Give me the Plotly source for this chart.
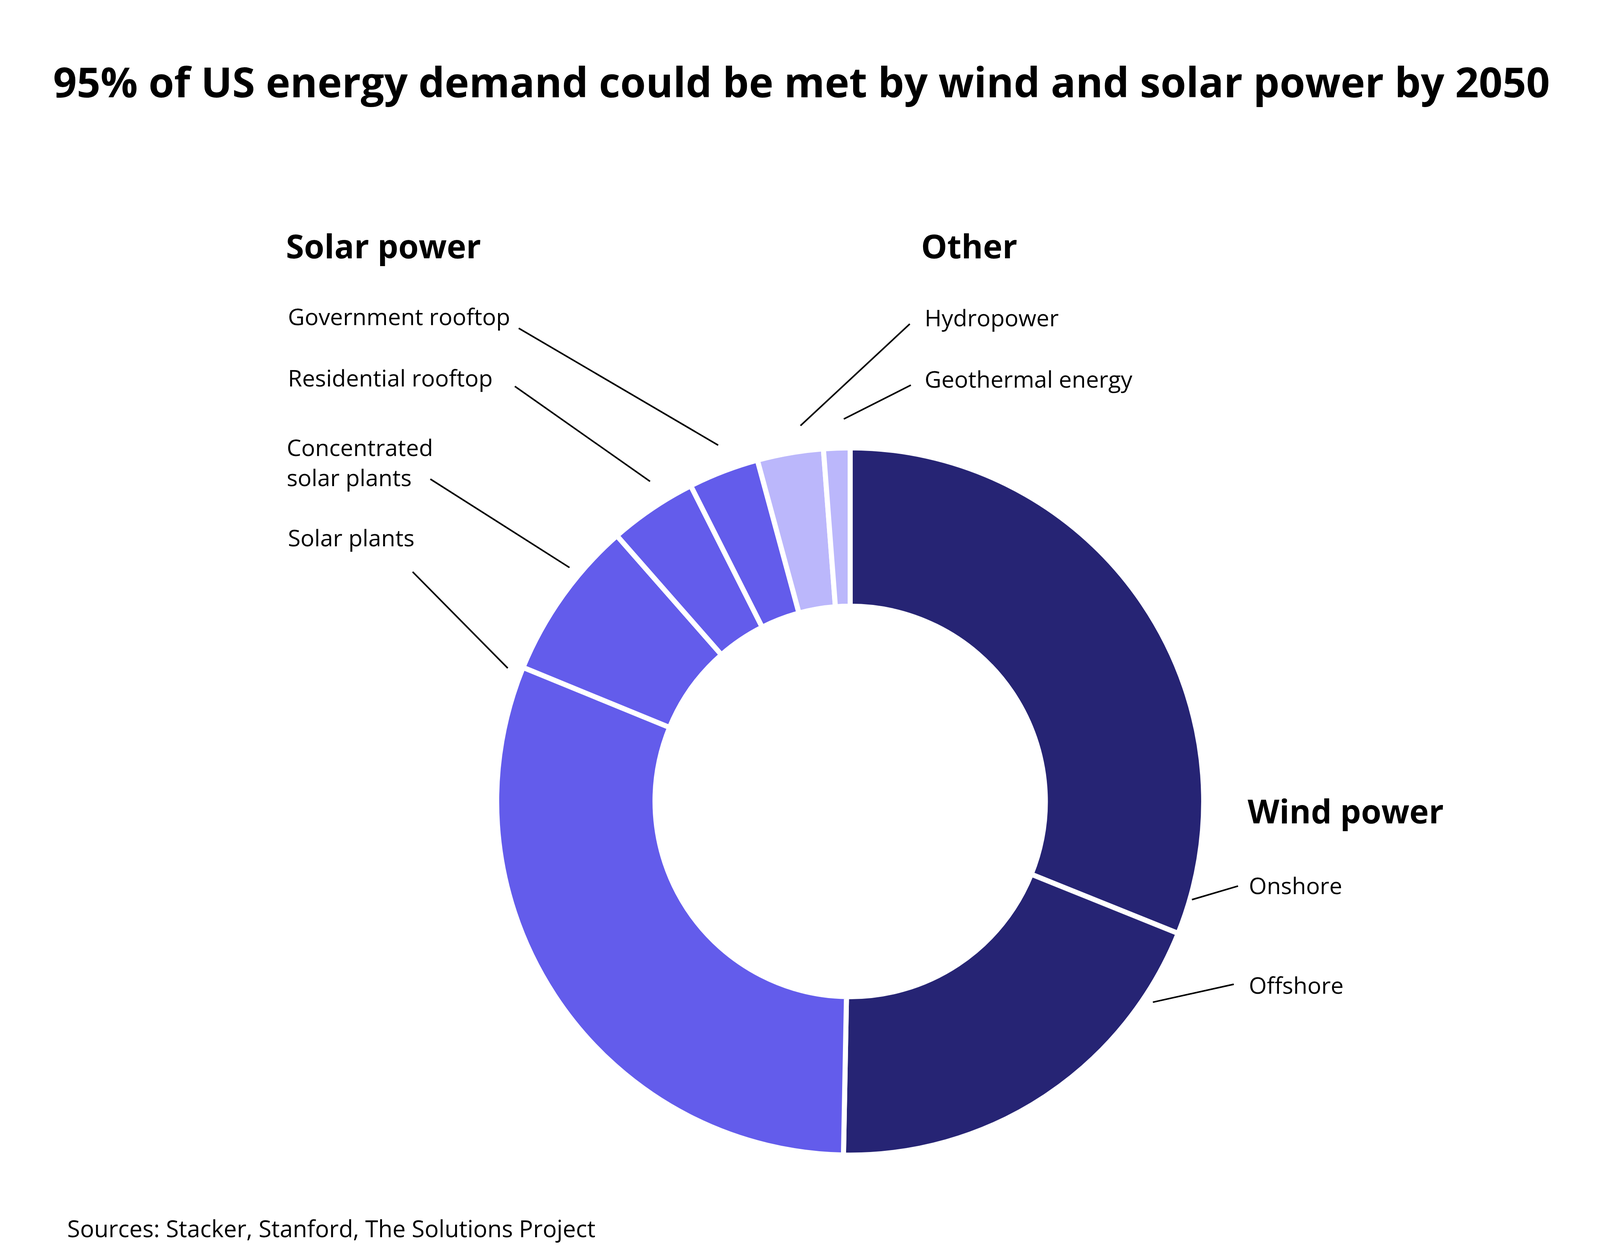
import plotly.graph_objects as go

# Share of projected 2050 US energy supply (%)
sources = ["Onshore", "Offshore", "Solar plants", "Concentrated solar plants",
           "Residential rooftop", "Government rooftop", "Hydropower", "Geothermal energy"]
shares = [30.9, 19.1, 30.7, 7.3, 4.0, 3.2, 3.0, 1.2]
groups = ["Wind power", "Wind power", "Solar power", "Solar power",
          "Solar power", "Solar power", "Other", "Other"]

group_colors = {"Wind power": "#262474", "Solar power": "#635CEB", "Other": "#BBB7FB"}

# the browser viewport is 4096 wide, so the page is laid out to fit it
W, H = 4088, 3201
REF_W, REF_H = 4500, 3209
FONT = "Open Sans"


def px(x):
    return x / REF_W


def py(y):
    return 1 - y / REF_H


# donut centre (paper) and radius (px)
cx, cy, r = px(2387), py(2048), 905

fig = go.Figure()

fig.add_trace(go.Pie(
    labels=sources,
    values=shares,
    hole=0.552,
    sort=False,
    direction="clockwise",
    rotation=0,
    textinfo="none",
    marker=dict(colors=[group_colors[g] for g in groups],
                line=dict(color="white", width=13)),
    domain=dict(x=[cx - r / W, cx + r / W], y=[cy - r / H, cy + r / H]),
    showlegend=False,
    hovertemplate="%{label}: %{value}%<extra></extra>",
))

# label text: (text, x, y, bold)
labels = [
    ("Solar power", 795, 622, True),
    ("Other", 2585, 622, True),
    ("Wind power", 3505, 2072, True),
    ("Government rooftop", 800, 803, False),
    ("Residential rooftop", 800, 960, False),
    ("Concentrated<br>solar plants", 797, 1177, False),
    ("Solar plants", 800, 1370, False),
    ("Hydropower", 2595, 806, False),
    ("Geothermal energy", 2595, 963, False),
    ("Onshore", 3508, 2263, False),
    ("Offshore", 3508, 2518, False),
]

annotations = []
for text, x, y, bold in labels:
    annotations.append(dict(
        text=f"<b>{text}</b>" if bold else text,
        x=px(x), y=py(y), xref="paper", yref="paper",
        xanchor="left", yanchor="middle", showarrow=False, align="left",
        font=dict(family=FONT, size=84 if bold else 59, color="#000000"),
    ))

annotations.append(dict(
    text="<b>95% of US energy demand could be met by wind and solar power by 2050</b>",
    x=0.5, y=py(200), xref="paper", yref="paper",
    xanchor="center", yanchor="middle", showarrow=False,
    font=dict(family=FONT, size=106, color="#000000"),
))
annotations.append(dict(
    text="Sources: Stacker, Stanford, The Solutions Project",
    x=px(178), y=py(3143), xref="paper", yref="paper",
    xanchor="left", yanchor="middle", showarrow=False,
    font=dict(family=FONT, size=60, color="#000000"),
))

# leader lines from labels to slices
leaders = [
    (1453, 834, 2015, 1134),
    (1442, 983, 1823, 1227),
    (1204, 1221, 1596, 1448),
    (1154, 1459, 1422, 1706),
    (2555, 823, 2247, 1084),
    (2558, 980, 2369, 1067),
    (3480, 2265, 3350, 2300),
    (3468, 2517, 3240, 2563),
]
shapes = [dict(type="line", xref="paper", yref="paper",
               x0=px(a), y0=py(b), x1=px(c), y1=py(d),
               line=dict(color="#000000", width=4))
          for a, b, c, d in leaders]

fig.update_layout(
    width=W, height=H,
    margin=dict(l=0, r=0, t=0, b=0),
    paper_bgcolor="white", plot_bgcolor="white",
    annotations=annotations,
    shapes=shapes,
)

fig.write_html("out.html")
